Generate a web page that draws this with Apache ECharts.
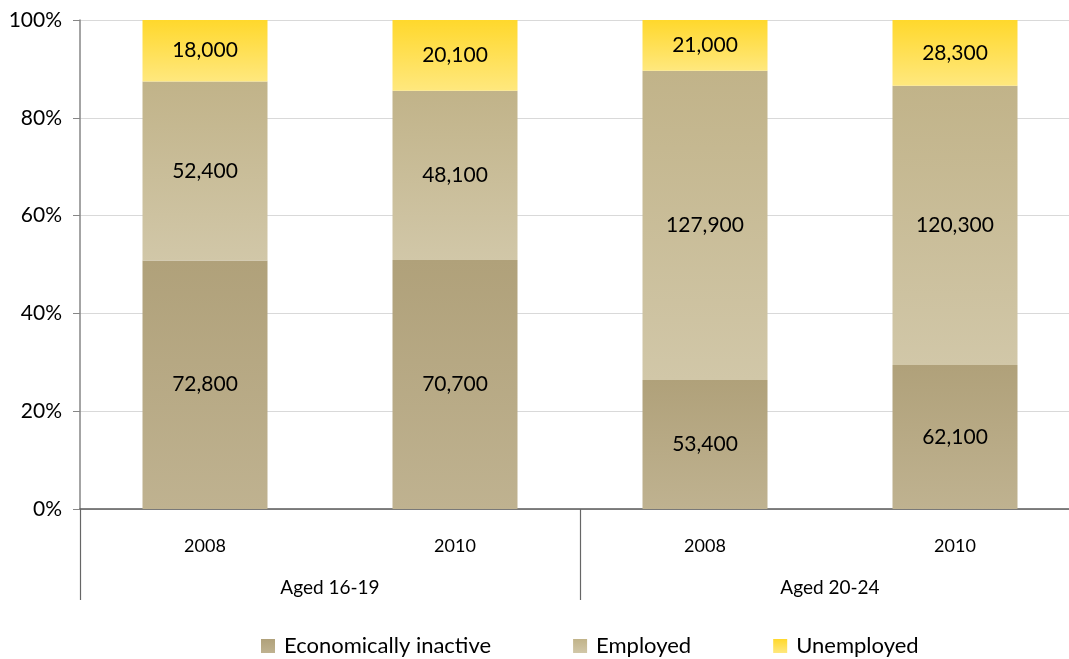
<!DOCTYPE html>
<html>
<head>
<meta charset="utf-8">
<script src="https://cdn.jsdelivr.net/npm/echarts@6/dist/echarts.min.js"></script>
<style>
  html, body { margin: 0; padding: 0; background: #fff; overflow: hidden; }
  #chart { width: 1080px; height: 659px; }
</style>
</head>
<body>
<div id="chart"></div>
<script>
// Population by economic status, two age groups, 2008 vs 2010
const categories = ['2008', '2010', '2008', '2010'];
const groups = ['Aged 16-19', 'Aged 20-24'];
const seriesNames = ['Economically inactive', 'Employed', 'Unemployed'];
const inactive = [72800, 70700, 53400, 62100];
const employed = [52400, 48100, 127900, 120300];
const unemployed = [18000, 20100, 21000, 28300];
const yTicks = [0, 20, 40, 60, 80, 100];

const FONT = 'Lato, "Noto Sans", sans-serif';

const totals = categories.map((_, i) => inactive[i] + employed[i] + unemployed[i]);

// Each bar shows the share of the column total; labels show the counts.
function shares(values) {
  return values.map((v, i) => ({ value: v / totals[i] * 100, raw: v }));
}

function grad(top, bottom) {
  return new echarts.graphic.LinearGradient(0, 0, 0, 1, [
    { offset: 0, color: top },
    { offset: 1, color: bottom }
  ]);
}

const colors = [
  grad('#b0a17a', '#bfb290'),
  grad('#c1b389', '#d1c7a8'),
  grad('#ffd82c', '#ffe87e')
];

const chart = echarts.init(document.getElementById('chart'), null, { renderer: 'canvas' });

function makeSeries(name, values, color) {
  return {
    name: name,
    type: 'bar',
    stack: 'total',
    barWidth: '50%',
    xAxisIndex: 0,
    data: shares(values),
    itemStyle: { color: color },
    label: {
      show: true,
      position: 'inside',
      color: '#000',
      fontFamily: FONT,
      fontSize: 21,
      formatter: p => p.data.raw.toLocaleString('en-US')
    },
    emphasis: { disabled: true }
  };
}

chart.setOption({
  animation: false,
  grid: { left: 80, top: 20, right: 0, height: 489, containLabel: false },
  legend: {
    data: seriesNames,
    top: 630,
    left: 256,
    itemWidth: 14,
    itemHeight: 14,
    itemGap: 82,
    icon: 'rect',
    textStyle: { fontFamily: FONT, fontSize: 22, color: '#000', padding: [0, 0, 0, 4] }
  },
  xAxis: [
    {
      type: 'category',
      data: categories,
      position: 'bottom',
      axisLine: { show: true, lineStyle: { color: '#595959', width: 1.5 } },
      axisTick: { show: false },
      axisLabel: { fontFamily: FONT, fontSize: 18, color: '#000', margin: 28 }
    },
    {
      type: 'category',
      data: groups,
      position: 'bottom',
      axisLine: { show: false },
      axisTick: { show: true, length: 91, lineStyle: { color: '#666', width: 1.2 } },
      axisLabel: { fontFamily: FONT, fontSize: 19, color: '#000', margin: 69 },
      splitLine: { show: false }
    }
  ],
  yAxis: {
    type: 'value',
    min: yTicks[0],
    max: yTicks[yTicks.length - 1],
    interval: 20,
    axisLine: { show: true, lineStyle: { color: '#868686', width: 1.5 } },
    axisTick: { show: true, length: 7, inside: false, lineStyle: { color: '#868686' } },
    axisLabel: {
      fontFamily: FONT, fontSize: 21, color: '#000', margin: 18,
      formatter: v => v + '%'
    },
    splitLine: { show: true, lineStyle: { color: '#d9d9d9', width: 1 } }
  },
  series: [
    makeSeries(seriesNames[0], inactive, colors[0]),
    makeSeries(seriesNames[1], employed, colors[1]),
    makeSeries(seriesNames[2], unemployed, colors[2])
  ]
});
</script>
</body>
</html>
